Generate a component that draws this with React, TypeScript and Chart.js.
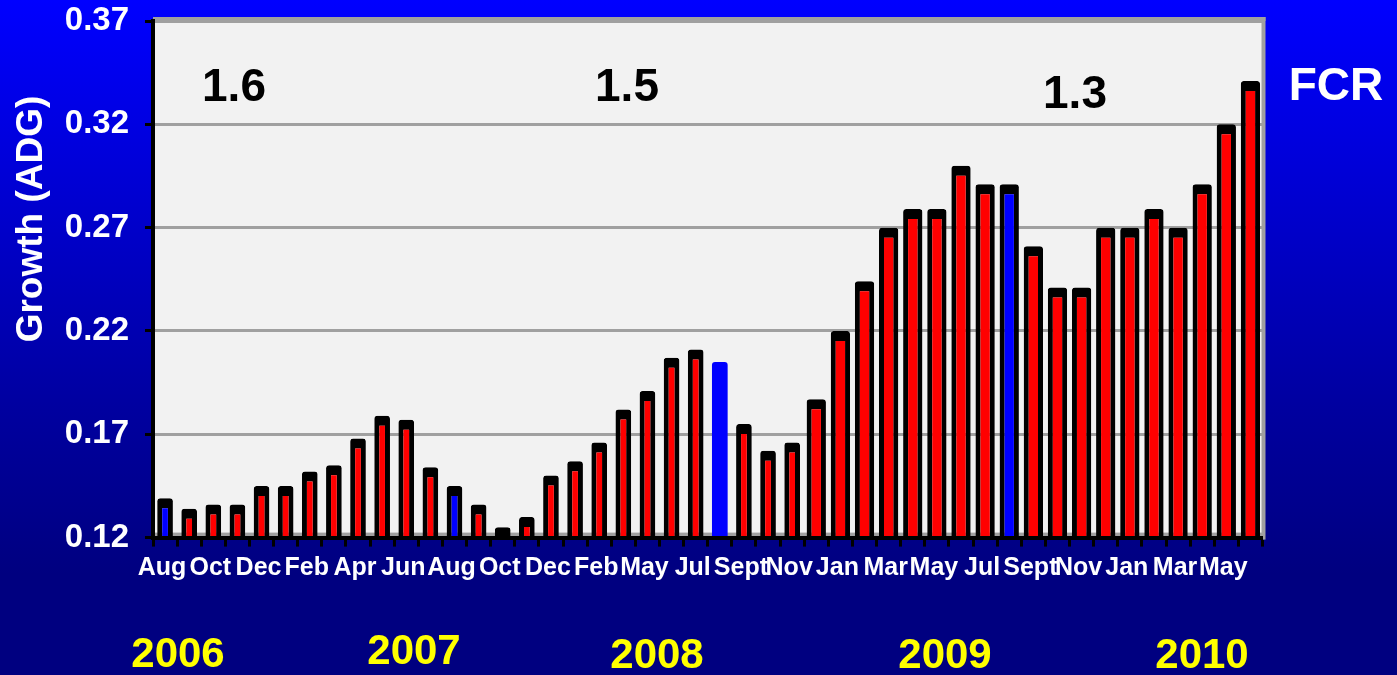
import React, { useEffect, useRef } from 'react';
import { Chart, registerables } from 'chart.js';

Chart.register(...registerables);

// ---- data ----
const months = [
  'Aug', 'Sep', 'Oct', 'Nov', 'Dec', 'Jan', 'Feb', 'Mar', 'Apr', 'May', 'Jun', 'Jul',
  'Aug', 'Sep', 'Oct', 'Nov', 'Dec', 'Jan', 'Feb', 'Mar', 'May', 'Jun', 'Jul',
  'Aug', 'Sept', 'Oct', 'Nov', 'Dec', 'Jan', 'Feb', 'Mar', 'Apr', 'May', 'Jun', 'Jul',
  'Aug', 'Sept', 'Oct', 'Nov', 'Dec', 'Jan', 'Feb', 'Mar', 'Apr', 'May', 'Jun',
];

const adg = [
  0.139, 0.134, 0.136, 0.136, 0.145, 0.145, 0.152, 0.155, 0.168, 0.179, 0.177, 0.154,
  0.145, 0.136, 0.125, 0.130, 0.150, 0.157, 0.166, 0.182, 0.191, 0.207, 0.211,
  0.205, 0.175, 0.162, 0.166, 0.187, 0.220, 0.244, 0.270, 0.279, 0.279, 0.300, 0.291,
  0.291, 0.261, 0.241, 0.241, 0.270, 0.270, 0.279, 0.270, 0.291, 0.320, 0.341,
];

const blueBars = [0, 12, 23, 35];
const borderlessBars = [23];
const wideStart = 27;

const yTicks = [0.12, 0.17, 0.22, 0.27, 0.32, 0.37];

const years = ['2006', '2007', '2008', '2009', '2010'];
const fcrValues = ['1.6', '1.5', '1.3'];

// ---- annotation placement (pixels) ----
const yearPos = [
  [178, 655],
  [414, 652],
  [657, 656],
  [945, 656],
  [1202, 656],
];
const fcrPos = [
  [234, 88],
  [627, 88],
  [1075, 95],
];

const FONT = '"Liberation Sans", Arial, sans-serif';
const W = 1397;
const H = 675;

const decorPlugin = {
  id: 'decor',
  beforeDraw(chart: any) {
    const { ctx, chartArea: a } = chart;
    ctx.save();
    ctx.fillStyle = '#f2f2f2';
    ctx.fillRect(a.left, a.top, a.right - a.left, a.bottom - a.top);
    ctx.fillStyle = '#a0a0a0';
    ctx.fillRect(a.left, a.top - 4, a.right - a.left + 3, 4);
    ctx.fillRect(a.right - 1, a.top - 4, 4, a.bottom - a.top + 6);
    ctx.fillRect(a.left, a.bottom - 5, a.right - a.left, 5);
    ctx.restore();
  },
  afterDraw(chart: any) {
    const { ctx } = chart;
    ctx.save();
    // y axis title
    ctx.translate(32, 219);
    ctx.rotate(-Math.PI / 2);
    ctx.fillStyle = '#ffffff';
    ctx.font = `bold 37px ${FONT}`;
    ctx.textAlign = 'center';
    ctx.textBaseline = 'middle';
    ctx.fillText('Growth (ADG)', 0, 0);
    ctx.restore();

    ctx.save();
    ctx.textAlign = 'center';
    ctx.textBaseline = 'middle';
    ctx.font = `bold 46px ${FONT}`;
    ctx.fillStyle = '#000000';
    fcrValues.forEach((t, i) => ctx.fillText(t, fcrPos[i][0], fcrPos[i][1]));
    ctx.fillStyle = '#ffffff';
    ctx.fillText('FCR', 1336, 87);
    ctx.font = `bold 42px ${FONT}`;
    ctx.fillStyle = '#ffff00';
    years.forEach((t, i) => ctx.fillText(t, yearPos[i][0], yearPos[i][1]));
    ctx.restore();
  },
};

const barColor = (i: number) => (blueBars.includes(i) ? '#0000ff' : '#ff0000');
const barBorder = { top: 10, left: 5, right: 5, bottom: 0 };

export default function App() {
  const ref = useRef<HTMLCanvasElement | null>(null);

  useEffect(() => {
    if (!ref.current) return;
    const thinData = adg.map((v, i) => (i < wideStart ? v : null));
    const wideData = adg.map((v, i) => (i >= wideStart ? v : null));
    const common = {
      backgroundColor: adg.map((_, i) => barColor(i)),
      borderColor: '#000000',
      borderWidth: (c: any) => (borderlessBars.includes(c.dataIndex) ? 0 : barBorder),
      borderRadius: { topLeft: 3, topRight: 3, bottomLeft: 0, bottomRight: 0 },
      categoryPercentage: 1,
      grouped: false,
    };
    const chart = new Chart(ref.current, {
      type: 'bar',
      data: {
        labels: months,
        datasets: [
          { ...common, data: thinData, barPercentage: 0.65 } as any,
          { ...common, data: wideData, barPercentage: 0.8 } as any,
        ],
      },
      options: {
        animation: false,
        responsive: false,
        devicePixelRatio: 1,
        layout: { padding: { left: 0, top: 21, right: 134.5, bottom: 0 } },
        plugins: { legend: { display: false }, tooltip: { enabled: false } },
        scales: {
          x: {
            offset: true,
            grid: {
              offset: true,
              drawOnChartArea: false,
              drawTicks: true,
              tickLength: 9,
              tickColor: '#000000',
              tickWidth: 3,
              color: '#000000',
            },
            border: { display: true, color: '#000000', width: 4, z: 1 },
            ticks: {
              color: '#ffffff',
              font: { family: FONT, size: 25, weight: 'bold' },
              autoSkip: false,
              maxRotation: 0,
              minRotation: 0,
              padding: 7,
              labelOffset: -3,
              callback: (_v: any, i: number) => (i % 2 === 0 ? months[i] : ''),
            },
            afterFit: (s: any) => {
              s.height = H - 537.6;
              s.paddingLeft = 0;
              s.paddingRight = 0;
            },
          },
          y: {
            min: 0.12,
            max: 0.37,
            afterBuildTicks: (s: any) => {
              s.ticks = yTicks.map((v) => ({ value: v }));
            },
            grid: {
              color: '#a0a0a0',
              lineWidth: 3,
              tickColor: '#000000',
              tickLength: 8,
              tickWidth: 3,
            },
            border: { display: true, color: '#000000', width: 4 },
            ticks: {
              color: '#ffffff',
              font: { family: FONT, size: 33, weight: 'bold' },
              padding: 16,
              callback: (v: any) => Number(v).toFixed(2),
            },
            afterFit: (s: any) => {
              s.width = 153;
              s.paddingTop = 0;
              s.paddingBottom = 0;
            },
          },
        },
      } as any,
      plugins: [decorPlugin],
    });
    return () => chart.destroy();
  }, []);

  return (
    <div
      style={{
        position: 'absolute',
        left: 0,
        top: 0,
        width: W,
        height: H,
        background: 'linear-gradient(to bottom, #0000ff 0%, #0000a0 60%, #000080 85%, #000080 100%)',
        overflow: 'hidden',
      }}
    >
      <canvas ref={ref} width={W} height={H} style={{ display: 'block', width: W, height: H }} />
    </div>
  );
}
